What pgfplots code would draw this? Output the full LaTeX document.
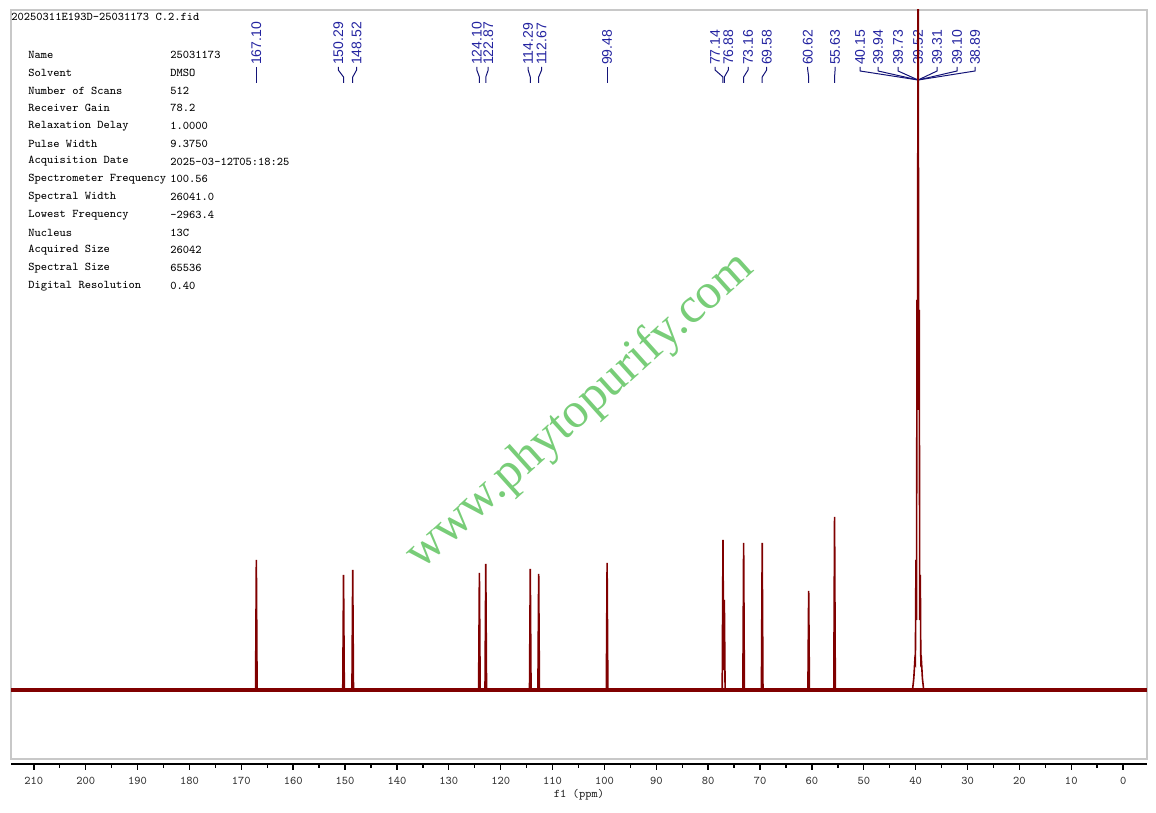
\documentclass[border=0pt]{standalone}
\usepackage{fontspec}
\newfontfamily\lblfont{Liberation Sans}
\newfontfamily\wmfont{Liberation Serif}
\usepackage{pgfplots}
\pgfplotsset{compat=1.18}

\definecolor{spec}{RGB}{128,0,0}
\definecolor{lbl}{RGB}{35,35,160}
\definecolor{conn}{RGB}{20,20,120}
\definecolor{wm}{RGB}{120,205,120}
\definecolor{framegray}{RGB}{200,200,200}

% peak label: ppm position of the label, text
\newcommand{\plab}[2]{\node[text=lbl, rotate=90, anchor=west, inner sep=0.4pt,
  font=\lblfont\fontsize{7}{8}\selectfont] at (axis cs:#1,624) {#2};}
% connector from label (x=#1) to peak (x=#2)
\newcommand{\pcon}[2]{\addplot[conn, line width=0.5pt] coordinates {(#1,623) (#1,620) (#2,613) (#2,607)};}
\newcommand{\dcon}[1]{\addplot[conn, line width=0.5pt] coordinates {(#1,623) (#1,619) (39.52,610)};}

\newcommand{\info}{\ttfamily\fontsize{5.9}{7}\selectfont}

\begin{document}
\begin{tikzpicture}
\useasboundingbox (-5.5pt,-27pt) rectangle (572.5pt,379.5pt);

\begin{axis}[
  at={(0,0)}, anchor=south west, scale only axis,
  width=568pt, height=374.5pt,
  x dir=reverse, xmin=-4.6, xmax=214.4, ymin=-69, ymax=680,
  axis line style={framegray, line width=0.6pt},
  ticks=none]

% labels and connectors
\plab{167.10}{167.10} \pcon{167.10}{167.10}
\plab{151.30}{150.29} \pcon{151.30}{150.29}
\plab{147.77}{148.52} \pcon{147.77}{148.52}
\plab{124.60}{124.10} \pcon{124.60}{124.10}
\plab{122.40}{122.87} \pcon{122.40}{122.87}
\plab{114.70}{114.29} \pcon{114.70}{114.29}
\plab{112.10}{112.67} \pcon{112.10}{112.67}
\plab{99.48}{99.48}   \pcon{99.48}{99.48}
\plab{78.67}{77.14}   \pcon{78.67}{77.14}
\plab{76.11}{76.88}   \pcon{76.11}{76.88}
\plab{72.31}{73.16}   \pcon{72.31}{73.16}
\plab{68.71}{69.58}   \pcon{68.71}{69.58}
\plab{60.80}{60.62}   \pcon{60.80}{60.62}
\plab{55.53}{55.63}   \pcon{55.53}{55.63}
\plab{50.71}{40.15} \dcon{50.71}
\plab{47.24}{39.94} \dcon{47.24}
\plab{43.39}{39.73} \dcon{43.39}
\plab{39.53}{39.52} \dcon{39.53}
\plab{35.87}{39.31} \dcon{35.87}
\plab{32.01}{39.10} \dcon{32.01}
\plab{28.54}{38.89} \dcon{28.54}

% baseline
\addplot[spec, line width=1.7pt] coordinates {(214.4,0) (-4.6,0)};

% peaks
\addplot[spec, line width=0.8pt] coordinates {
  (214,0)
  (167.25,0) (167.10,130) (166.95,0)
  (150.44,0) (150.29,115) (150.14,0)
  (148.67,0) (148.52,120) (148.37,0)
  (124.25,0) (124.10,117) (123.95,0)
  (123.02,0) (122.87,126) (122.72,0)
  (114.44,0) (114.29,121) (114.14,0)
  (112.82,0) (112.67,116) (112.52,0)
  (99.63,0) (99.48,127) (99.33,0)
  (77.29,0) (77.14,150) (77.01,20) (76.88,90) (76.73,0)
  (73.31,0) (73.16,147) (73.01,0)
  (69.73,0) (69.58,147) (69.43,0)
  (60.77,0) (60.62,99) (60.47,0)
  (55.78,0) (55.63,173) (55.48,0)
  (40.6,0) (40.35,12) (40.15,30) (40.05,28) (39.94,130) (39.84,70)
  (39.73,390) (39.63,280) (39.52,900) (39.42,280) (39.31,380) (39.21,70)
  (39.10,115) (39.00,28) (38.89,30) (38.7,12) (38.45,0)
  (-4,0)
};
\end{axis}

\begin{axis}[
  at={(0,-2.5pt)}, anchor=south west, scale only axis,
  width=568pt, height=10pt,
  x dir=reverse, xmin=-4.6, xmax=214.4, ymin=0, ymax=1,
  axis x line*=bottom, axis y line=none,
  xtick={0,10,...,210}, minor x tick num=1,
  tick align=outside, major tick length=3pt, minor tick length=2pt,
  tick style={black, line width=0.7pt},
  axis line style={black, line width=1pt},
  xticklabel style={font=\info, text=black!80},
  /pgf/number format/assume math mode=true]
\addplot[draw=none] coordinates {(0,0)};
\end{axis}

\node[font=\info, text=black!85] at (284pt,-18pt) {f1 (ppm)};

% acquisition parameters
\node[font=\info, anchor=west, inner sep=0pt] at (0pt,371pt) {20250311E193D-25031173 C.2.fid};
\foreach \k/\v [count=\i from 0] in {Name/25031173, Solvent/DMSO,
  Number of Scans/512, Receiver Gain/78.2, Relaxation Delay/1.0000,
  Pulse Width/9.3750, Acquisition Date/2025-03-12T05:18:25,
  Spectrometer Frequency/100.56, Spectral Width/26041.0,
  Lowest Frequency/-2963.4, Nucleus/13C, Acquired Size/26042,
  Spectral Size/65536, Digital Resolution/0.40}{
  \node[font=\info, anchor=west, inner sep=0pt] at (8.5pt,352pt-\i*8.875pt) {\k};
  \node[font=\info, anchor=west, inner sep=0pt] at (79.5pt,352pt-\i*8.875pt) {\v};
}

% watermark
\node[text=wm, rotate=42, anchor=base west, inner sep=0pt,
  font=\wmfont\fontsize{25}{30}\selectfont] at (205pt,94pt) {www.phytopurify.com};
\end{tikzpicture}
\end{document}
